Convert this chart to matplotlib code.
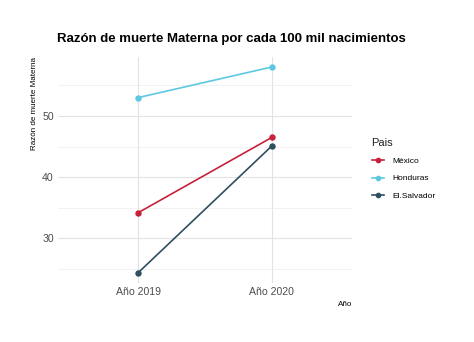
import matplotlib
matplotlib.use("Agg")
import matplotlib.pyplot as plt
from matplotlib.ticker import MultipleLocator

plt.rcParams['font.family'] = ['Liberation Sans', 'DejaVu Sans']

years = ["Año 2019", "Año 2020"]
paises = ["México", "Honduras", "El.Salvador"]
mexico = [34.2, 46.5]
honduras = [53.0, 58.0]
elsalvador = [24.4, 45.1]
colors = ["#c8203a", "#5ec8e0", "#2e4f60"]

fig = plt.figure(figsize=(4.74, 3.42), dpi=100)
W, H = 474, 342
left, right, top, bottom = 58, 352, 56.7, 283
ax = fig.add_axes([left / W, 1 - bottom / H, (right - left) / W, (bottom - top) / H])

x = [1, 2]
for vals, c, lab in zip([mexico, honduras, elsalvador], colors, paises):
    ax.plot(x, vals, color=c, lw=1.2, marker="o", ms=3.6, label=lab, zorder=3)

ax.set_xlim(0.4, 2.6)
allv = mexico + honduras + elsalvador
lo, hi = min(allv), max(allv)
pad = (hi - lo) * 0.05
ax.set_ylim(lo - pad, hi + pad)
ax.set_xticks(x)
ax.set_xticklabels(years)
ax.yaxis.set_major_locator(MultipleLocator(10))
ax.yaxis.set_minor_locator(MultipleLocator(5))
ax.grid(which="major", color="#e3e3e3", lw=0.8)
ax.grid(which="minor", axis="y", color="#ededed", lw=0.5)
ax.set_axisbelow(True)
for s in ax.spines.values():
    s.set_visible(False)
ax.tick_params(which="both", length=0, labelcolor="#4d4d4d", labelsize=7.6)
ax.tick_params(axis="y", pad=3)
ax.tick_params(axis="x", pad=3)

fig.text(231 / W, 1 - 39 / H, "Razón de muerte Materna por cada 100 mil nacimientos",
         ha="center", va="center", fontsize=9.55, fontweight="bold")
fig.text(35 / W, 1 - 57 / H, "Razón de muerte Materna", rotation=90,
         ha="center", va="top", fontsize=5.8)
fig.text(352 / W, 1 - 305 / H, "Año", ha="right", va="center", fontsize=5.8)

leg = fig.legend(loc="upper left", bbox_to_anchor=(364 / W, 1 - 131 / H), frameon=False,
                 title="Pais", fontsize=6, title_fontsize=8, handlelength=1.5,
                 handletextpad=1.0, labelspacing=1.2, alignment="left", markerscale=0.85)
leg._legend_box.sep = 6
plt.setp(leg.get_title(), color="#222222")

fig.savefig("out.png", dpi=100, facecolor="white")
